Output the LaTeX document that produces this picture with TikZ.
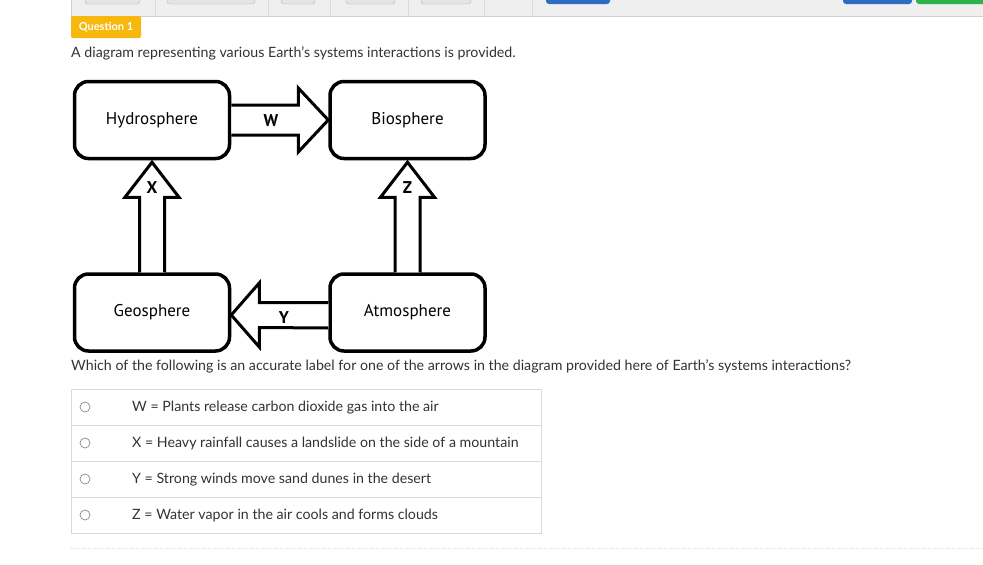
\documentclass[tikz,border=0pt]{standalone}
\usepackage{fontspec}
\setmainfont{Lato}
\newfontfamily\diagfont{PT Sans}
\usetikzlibrary{calc}
\definecolor{bodytext}{HTML}{333333}
\definecolor{barfill}{HTML}{EFEFEF}
\definecolor{barline}{HTML}{D0D0D0}
\definecolor{btnfill}{HTML}{E4E4E4}
\definecolor{btnline}{HTML}{B5B5B5}
\definecolor{btnblue}{HTML}{2A6DC2}
\definecolor{btngreen}{HTML}{2FB24B}
\definecolor{badgeyellow}{HTML}{F6B80C}
\definecolor{radioline}{HTML}{8A8A8A}
\definecolor{tableline}{HTML}{DADADA}
\tikzset{
  sphere/.style={draw,line width=3.5pt,rounded corners=14pt,minimum width=155pt,minimum height=77pt,
    font=\diagfont\fontsize{17}{20}\selectfont},
  blockarrow/.style={draw,fill=white,line width=3pt,miter limit=10},
  arrowlabel/.style={font=\diagfont\bfseries\fontsize{17}{19}\selectfont},
  pagetext/.style={anchor=base west,inner sep=0pt,text=bodytext,font=\fontsize{14.2}{16}\selectfont},
  toolbtn/.style={draw=btnline,fill=btnfill,rounded corners=3pt},
  radio/.style={draw=radioline,circle,minimum size=10pt,inner sep=0pt,line width=0.7pt}
}
\begin{document}
\begin{tikzpicture}[x=1pt,y=-1pt]
  \useasboundingbox (0,0) rectangle (983,565);
  \clip (0,0) rectangle (983,565);
  \fill[white] (0,0) rectangle (983,565);
  % toolbar at the top
  \fill[barfill] (71,-5) rectangle (983,16);
  \draw[barline] (71,16) -- (983,16);
  \draw[barline] (71,-5) -- (71,16);
  \foreach \xs in {155,268,330,408,484,532}
    \draw[tableline] (\xs,-5) -- (\xs,16);
  \foreach \xa/\xb in {85/140,167/255,281/315,346/395,421/471}
    \draw[toolbtn] (\xa,-10) rectangle (\xb,4);
  \fill[btnblue,rounded corners=3pt] (546,-10) rectangle (610,4);
  \fill[btnblue,rounded corners=3pt] (843,-10) rectangle (912,4);
  \fill[btngreen,rounded corners=3pt] (916,-10) rectangle (990,4);
  % question badge and intro
  \fill[badgeyellow,rounded corners=2pt] (71,16) rectangle (141,38);
  \node[text=white,font=\bfseries\fontsize{11}{13}\selectfont] (badge) at (106,27) {Question 1};
  \node[pagetext] (intro) at (71,57) {A diagram representing various Earth's systems interactions is provided.};
  % the four spheres
  \node[sphere] (hyd) at (152,120) {Hydrosphere};
  \node[sphere] (bio) at (407.5,120) {Biosphere};
  \node[sphere] (geo) at (152,312.5) {Geosphere};
  \node[sphere] (atm) at (407.5,312.5) {Atmosphere};
  % W: hydrosphere to biosphere
  \draw[blockarrow] ($(hyd.east)+(0,-15)$) -- ($(bio.west)+(-30,-15)$) -- ($(bio.west)+(-30,-32)$)
    -- (bio.west) -- ($(bio.west)+(-30,32)$) -- ($(bio.west)+(-30,15)$) -- ($(hyd.east)+(0,15)$);
  \node[arrowlabel] (wlab) at (271,121) {W};
  % X: geosphere to hydrosphere
  \coordinate (xtip) at ($(hyd.south)+(0,2)$);
  \draw[blockarrow] ($(geo.north)+(-12.5,0)$) -- ($(xtip)+(-12.5,35)$) -- ($(xtip)+(-27,35)$) -- (xtip)
    -- ($(xtip)+(27,35)$) -- ($(xtip)+(12.5,35)$) -- ($(geo.north)+(12.5,0)$);
  \node[arrowlabel] (xlab) at ($(xtip)+(0,25)$) {X};
  % Z: atmosphere to biosphere
  \coordinate (ztip) at ($(bio.south)+(0,2)$);
  \draw[blockarrow] ($(atm.north)+(-12.5,0)$) -- ($(ztip)+(-12.5,35)$) -- ($(ztip)+(-27,35)$) -- (ztip)
    -- ($(ztip)+(27,35)$) -- ($(ztip)+(12.5,35)$) -- ($(atm.north)+(12.5,0)$);
  \node[arrowlabel] (zlab) at ($(ztip)+(0,25)$) {Z};
  % Y: atmosphere to geosphere
  \coordinate (ytip) at ($(geo.east)+(0,2.5)$);
  \draw[blockarrow] ($(atm.west)+(0,-10)$) -- ($(ytip)+(28,-12.5)$) -- ($(ytip)+(28,-32)$) -- (ytip)
    -- ($(ytip)+(28,32)$) -- ($(ytip)+(28,12.5)$) -- ($(atm.west)+(0,15.5)$);
  \node[arrowlabel] (ylab) at (284,318) {Y};
  % question and answer table
  \node[pagetext] (question) at (71,370) {Which of the following is an accurate label for one of the arrows in the diagram provided here of Earth's systems interactions?};
  \draw[tableline] (71.5,389) rectangle (541.5,533);
  \foreach \yr in {425,461,497}
    \draw[tableline] (71.5,\yr) -- (541.5,\yr);
  \foreach \yc/\txt [count=\k] in {407/{W = Plants release carbon dioxide gas into the air},
      443/{X = Heavy rainfall causes a landslide on the side of a mountain},
      479/{Y = Strong winds move sand dunes in the desert},
      515/{Z = Water vapor in the air cools and forms clouds}} {
    \node[radio] (radio\k) at (85,\yc) {};
    \node[pagetext] (opt\k) at (132,\yc+4.5) {\txt};
  }
  \draw[tableline,dotted] (71,548.5) -- (983,548.5);
\end{tikzpicture}
\end{document}
